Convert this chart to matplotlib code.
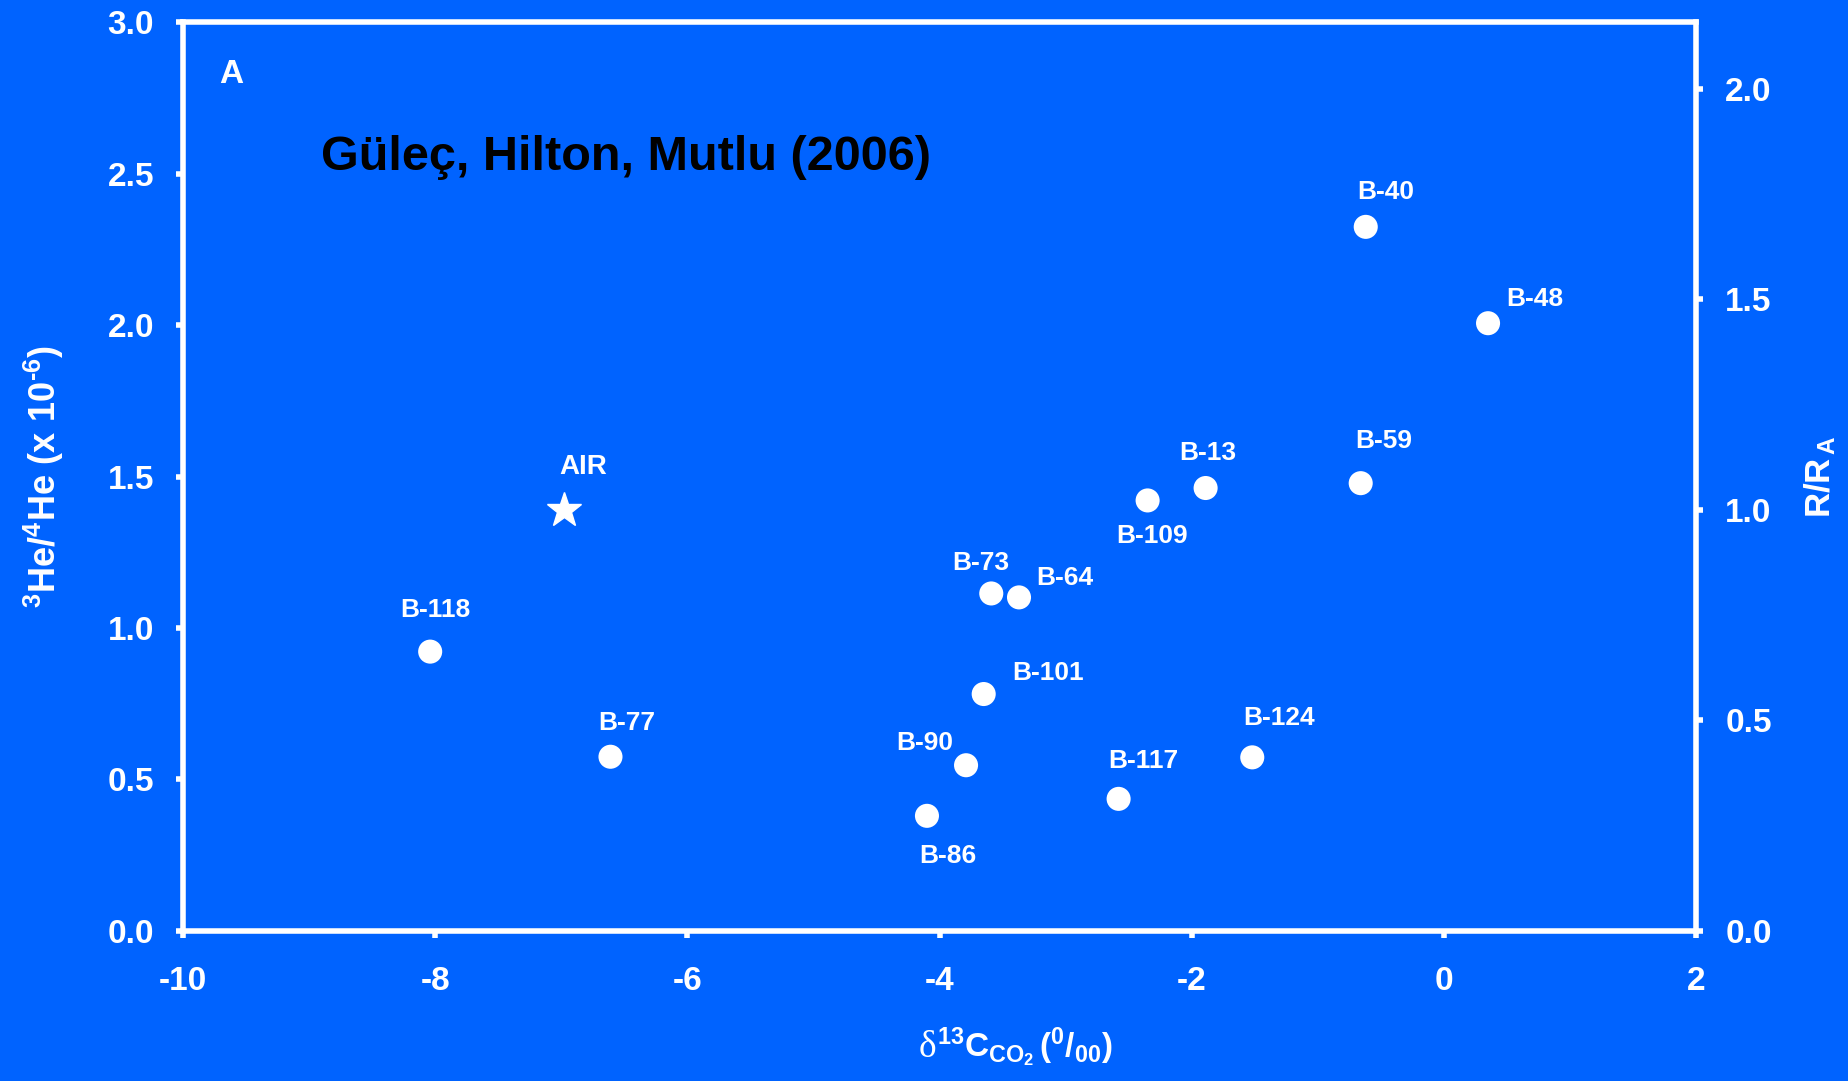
import matplotlib
matplotlib.use("Agg")
import matplotlib.pyplot as plt


# d13C of CO2 (per mil) and 3He/4He (x 1e-6) for each spring
samples = ["B-118", "B-77", "B-86", "B-90", "B-101", "B-73", "B-64", "B-117",
           "B-109", "B-13", "B-124", "B-59", "B-40", "B-48"]
d13c = [-8.04, -6.61, -4.10, -3.79, -3.65, -3.59, -3.37, -2.58,
        -2.35, -1.89, -1.52, -0.66, -0.62, 0.35]
he_ratio = [0.922, 0.575, 0.380, 0.547, 0.782, 1.114, 1.101, 0.436,
            1.421, 1.462, 0.573, 1.478, 2.324, 2.006]

# atmospheric reference
air_d13c = -6.98
air_ratio = 1.39

# label offsets in pixels (dx, dy) relative to each point
label_offsets = [(5, 42), (16, 34), (21, -40), (-41, 22), (64, 21), (-10, 30),
                 (46, 19), (25, 38), (4, -36), (2, 35), (27, 39), (23, 42),
                 (20, 35), (47, 24)]

BG = "#0063FF"
FG = "white"

plt.rcParams["font.family"] = ["Liberation Sans", "DejaVu Sans"]
plt.rcParams["font.weight"] = "bold"
plt.rcParams["axes.unicode_minus"] = False
plt.rcParams["mathtext.fontset"] = "custom"
plt.rcParams["mathtext.rm"] = "Liberation Sans:bold"
plt.rcParams["mathtext.it"] = "Liberation Sans:bold"
plt.rcParams["mathtext.bf"] = "Liberation Sans:bold"

fig = plt.figure(figsize=(18.49, 10.81), dpi=100, facecolor=BG)
ax = fig.add_axes([0.099, 0.1388, 0.8183, 0.8408])
ax.set_facecolor(BG)

ax.scatter(d13c, he_ratio, s=300, color=FG, edgecolors="none", zorder=3)
ax.plot([air_d13c], [air_ratio], marker="*", markersize=26, color=FG,
        linestyle="none", zorder=3)

for name, x, y, (dx, dy) in zip(samples, d13c, he_ratio, label_offsets):
    ax.annotate(name, (x, y), xytext=(dx, dy), textcoords="offset pixels",
                ha="center", va="center", color=FG, fontsize=19,
                fontweight="bold")
ax.annotate("AIR", (air_d13c, air_ratio), xytext=(19, 43),
            textcoords="offset pixels", ha="center", va="center", color=FG,
            fontsize=20, fontweight="bold")

ax.set_xlim(-10, 2)
ax.set_ylim(0, 3)
ax.set_xticks(range(-10, 3, 2))
ax.set_yticks([0, 0.5, 1.0, 1.5, 2.0, 2.5, 3.0])
ax.set_yticklabels(["0.0", "0.5", "1.0", "1.5", "2.0", "2.5", "3.0"])

for side in ["left", "right", "top", "bottom"]:
    ax.spines[side].set_color(FG)
    ax.spines[side].set_linewidth(4)

ax.tick_params(axis="x", colors=FG, direction="out", length=5, width=4,
               labelsize=24, pad=20)
ax.tick_params(axis="y", colors=FG, direction="out", length=5, width=4,
               labelsize=24, pad=16)

# R/RA scale on the right, air = 1.39e-6
ax2 = ax.twinx()
ax2.set_ylim(0, 3 / air_ratio)
ax2.set_yticks([0, 0.5, 1.0, 1.5, 2.0])
ax2.set_yticklabels(["0.0", "0.5", "1.0", "1.5", "2.0"])
ax2.tick_params(axis="y", colors=FG, direction="out", length=5, width=4,
                labelsize=24, pad=16)
for side in ["left", "right", "top", "bottom"]:
    ax2.spines[side].set_visible(False)

# x label: serif delta followed by the bold sans part
ax.text(0.498, -0.1386, "δ", transform=ax.transAxes, ha="right",
        va="baseline", color=FG, fontsize=27, fontweight="normal",
        family="Liberation Serif")
ax.text(0.498, -0.1386, r"$^{13}\mathrm{C}_{\mathrm{CO_2}}\,(^{0}/_{00})$",
        transform=ax.transAxes, ha="left", va="baseline", color=FG,
        fontsize=24)
ax.set_ylabel("$^{3}\\mathrm{He}/^{4}\\mathrm{He}\\ (\\mathrm{x}\\ 10^{\u2010 6})$",
              color=FG, fontsize=26, labelpad=30)
ax2.set_ylabel(r"$\mathrm{R/R}_{\,\mathrm{A}}$", color=FG, fontsize=25,
               labelpad=22)

ax.text(0.032, 0.942, "A", transform=ax.transAxes, ha="center", va="center",
        color=FG, fontsize=24, fontweight="bold")
ax.text(0.293, 0.851, "Güleç, Hilton, Mutlu (2006)", transform=ax.transAxes,
        ha="center", va="center", color="black", fontsize=35,
        fontweight="bold")

fig.savefig("out.png", dpi=100, facecolor=BG)
